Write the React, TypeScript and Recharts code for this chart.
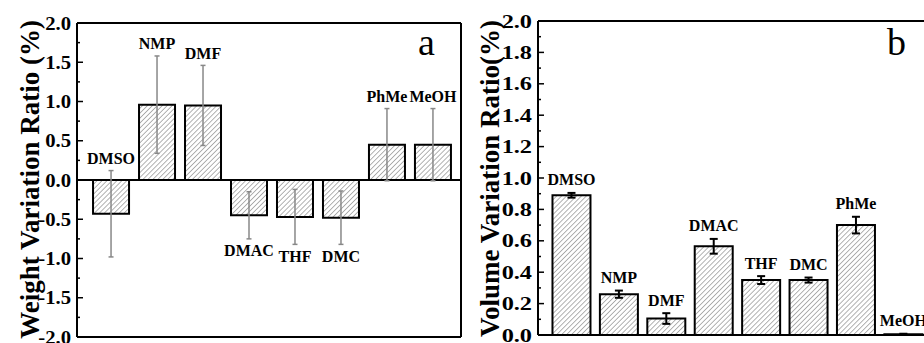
import React from 'react';
import { BarChart, Bar, XAxis, YAxis, ErrorBar, LabelList, ReferenceLine } from 'recharts';

const solvents = ['DMSO', 'NMP', 'DMF', 'DMAC', 'THF', 'DMC', 'PhMe', 'MeOH'];

// panel a: weight variation ratio (%)
const weightRatio = [-0.43, 0.96, 0.95, -0.45, -0.47, -0.48, 0.45, 0.45];
const weightError = [0.55, 0.62, 0.51, 0.3, 0.35, 0.34, 0.46, 0.46];

// panel b: volume variation ratio (%)
const volumeRatio = [0.89, 0.26, 0.105, 0.565, 0.35, 0.35, 0.7, 0.005];
const volumeError = [0.015, 0.023, 0.034, 0.047, 0.025, 0.016, 0.053, 0.003];

const weightTicks = [-2, -1.5, -1, -0.5, 0, 0.5, 1, 1.5, 2];
const weightMinorTicks = [-1.75, -1.25, -0.75, -0.25, 0.25, 0.75, 1.25, 1.75];
const volumeTicks = [0, 0.2, 0.4, 0.6, 0.8, 1, 1.2, 1.4, 1.6, 1.8, 2];
const volumeMinorTicks = [0.1, 0.3, 0.5, 0.7, 0.9, 1.1, 1.3, 1.5, 1.7, 1.9];

// bars sit at positions 1..8; the frame is a bit wider than the bars
const weightXDomain = [0.26, 8.61];
const volumeXDomain = [0.3, 8.61];
const weightYDomain = [-2, 2];
const volumeYDomain = [0, 2];

const SERIF = '"Liberation Serif", "Times New Roman", serif';

const weightData = solvents.map((name, i) => ({ name, pos: i + 1, value: weightRatio[i], err: weightError[i] }));
const volumeData = solvents.map((name, i) => ({ name, pos: i + 1, value: volumeRatio[i], err: volumeError[i] }));

function makeTick(majors: number[], stretch: number) {
  return (props: any) => {
    const { x, y, payload } = props;
    const v = payload.value;
    const major = majors.some((m) => Math.abs(m - v) < 1e-9);
    return (
      <g>
        <line x1={x} y1={y} x2={x + (major ? 6 : 3)} y2={y} stroke="#000" strokeWidth={1.5} />
        {major && (
          <text
            transform={`translate(${x - 6},${y + 6.5}) scale(${stretch},1)`}
            textAnchor="end"
            fontFamily={SERIF}
            fontWeight="bold"
            fontSize={18}
            fill="#000"
          >
            {v.toFixed(1)}
          </text>
        )}
      </g>
    );
  };
}

// solvent name sits past the end of the error bar
function makeLabel(values: number[], errors: number[], gap: number) {
  return (props: any) => {
    const vb = props.viewBox || props;
    const i = props.index;
    const top = Math.min(vb.y, vb.y + vb.height);
    const bottom = Math.max(vb.y, vb.y + vb.height);
    const v = values[i];
    const e = errors[i];
    const scale = (bottom - top) / Math.abs(v);
    const zeroY = v >= 0 ? bottom : top;
    const above = v + e > 0;
    const end = zeroY - (above ? v + e : v - e) * scale;
    const cy = above ? end - gap : end + gap;
    return (
      <text x={vb.x + vb.width / 2} y={cy} dy={5.5} textAnchor="middle" fontFamily={SERIF} fontWeight="bold" fontSize={16} fill="#000">
        {props.value}
      </text>
    );
  };
}

function Hatch({ id }: { id: string }) {
  return (
    <defs>
      <pattern id={id} width={3.5} height={3.5} patternUnits="userSpaceOnUse" patternTransform="rotate(45)">
        <rect width={3.5} height={3.5} fill="#fff" />
        <line x1={0} y1={0} x2={0} y2={3.5} stroke="#666" strokeWidth={1} />
      </pattern>
    </defs>
  );
}

export default function App() {
  return (
    <div style={{ position: 'fixed', left: 0, top: 0, width: 924, height: 343, overflow: 'hidden', background: '#fff' }}>
      <div style={{ position: 'absolute', left: 0, top: 0 }}>
        <BarChart width={470} height={343} data={weightData} margin={{ top: 23, right: 9, bottom: 6, left: 0 }}>
          <Hatch id="hatchA" />
          <XAxis type="number" dataKey="pos" domain={weightXDomain} allowDataOverflow hide />
          <YAxis
            type="number"
            domain={weightYDomain}
            ticks={[...weightTicks, ...weightMinorTicks]}
            interval={0}
            width={77}
            tickSize={0}
            tickMargin={0}
            tickLine={false}
            axisLine={false}
            tick={makeTick(weightTicks, 1.15)}
          />
          <ReferenceLine y={0} stroke="#000" strokeWidth={2} />
          <Bar dataKey="value" barSize={36} fill="url(#hatchA)" stroke="#000" strokeWidth={2} isAnimationActive={false}>
            <ErrorBar dataKey="err" width={2.5} stroke="#888" strokeWidth={1.5} />
            <LabelList dataKey="name" content={makeLabel(weightRatio, weightError, 12)} />
          </Bar>
          <ReferenceLine y={weightYDomain[1]} stroke="#000" strokeWidth={2} />
          <ReferenceLine y={weightYDomain[0]} stroke="#000" strokeWidth={2} />
          <ReferenceLine x={weightXDomain[0]} stroke="#000" strokeWidth={2} />
          <ReferenceLine x={weightXDomain[1]} stroke="#000" strokeWidth={2} />
        </BarChart>
      </div>
      <div style={{ position: 'absolute', left: 460, top: 0 }}>
        <BarChart width={480} height={343} data={volumeData} margin={{ top: 21, right: 8, bottom: 8, left: 0 }}>
          <Hatch id="hatchB" />
          <XAxis type="number" dataKey="pos" domain={volumeXDomain} allowDataOverflow hide />
          <YAxis
            type="number"
            domain={volumeYDomain}
            ticks={[...volumeTicks, ...volumeMinorTicks]}
            interval={0}
            width={78}
            tickSize={0}
            tickMargin={0}
            tickLine={false}
            axisLine={false}
            tick={makeTick(volumeTicks, 1.35)}
          />
          <Bar dataKey="value" barSize={38} fill="url(#hatchB)" stroke="#000" strokeWidth={2} isAnimationActive={false}>
            <ErrorBar dataKey="err" width={4} stroke="#000" strokeWidth={2} />
            <LabelList dataKey="name" content={makeLabel(volumeRatio, volumeError, 13)} />
          </Bar>
          <ReferenceLine y={volumeYDomain[1]} stroke="#000" strokeWidth={2} />
          <ReferenceLine y={volumeYDomain[0]} stroke="#000" strokeWidth={2} />
          <ReferenceLine x={volumeXDomain[0]} stroke="#000" strokeWidth={2} />
          <ReferenceLine x={volumeXDomain[1]} stroke="#000" strokeWidth={2} />
        </BarChart>
      </div>
      <svg width={924} height={343} style={{ position: 'absolute', left: 0, top: 0, pointerEvents: 'none' }}>
        <text transform="translate(39,20) rotate(-90)" textAnchor="end" fontFamily={SERIF} fontWeight="bold" fontSize={27} fill="#000">
          Weight Variation Ratio (%)
        </text>
        <text transform="translate(499,20) rotate(-90)" textAnchor="end" fontFamily={SERIF} fontWeight="bold" fontSize={27} fill="#000">
          Volume Variation Ratio(%)
        </text>
        <text x={418} y={55} fontFamily={SERIF} fontSize={38} fill="#000">a</text>
        <text x={887} y={55} fontFamily={SERIF} fontSize={38} fill="#000">b</text>
      </svg>
    </div>
  );
}
